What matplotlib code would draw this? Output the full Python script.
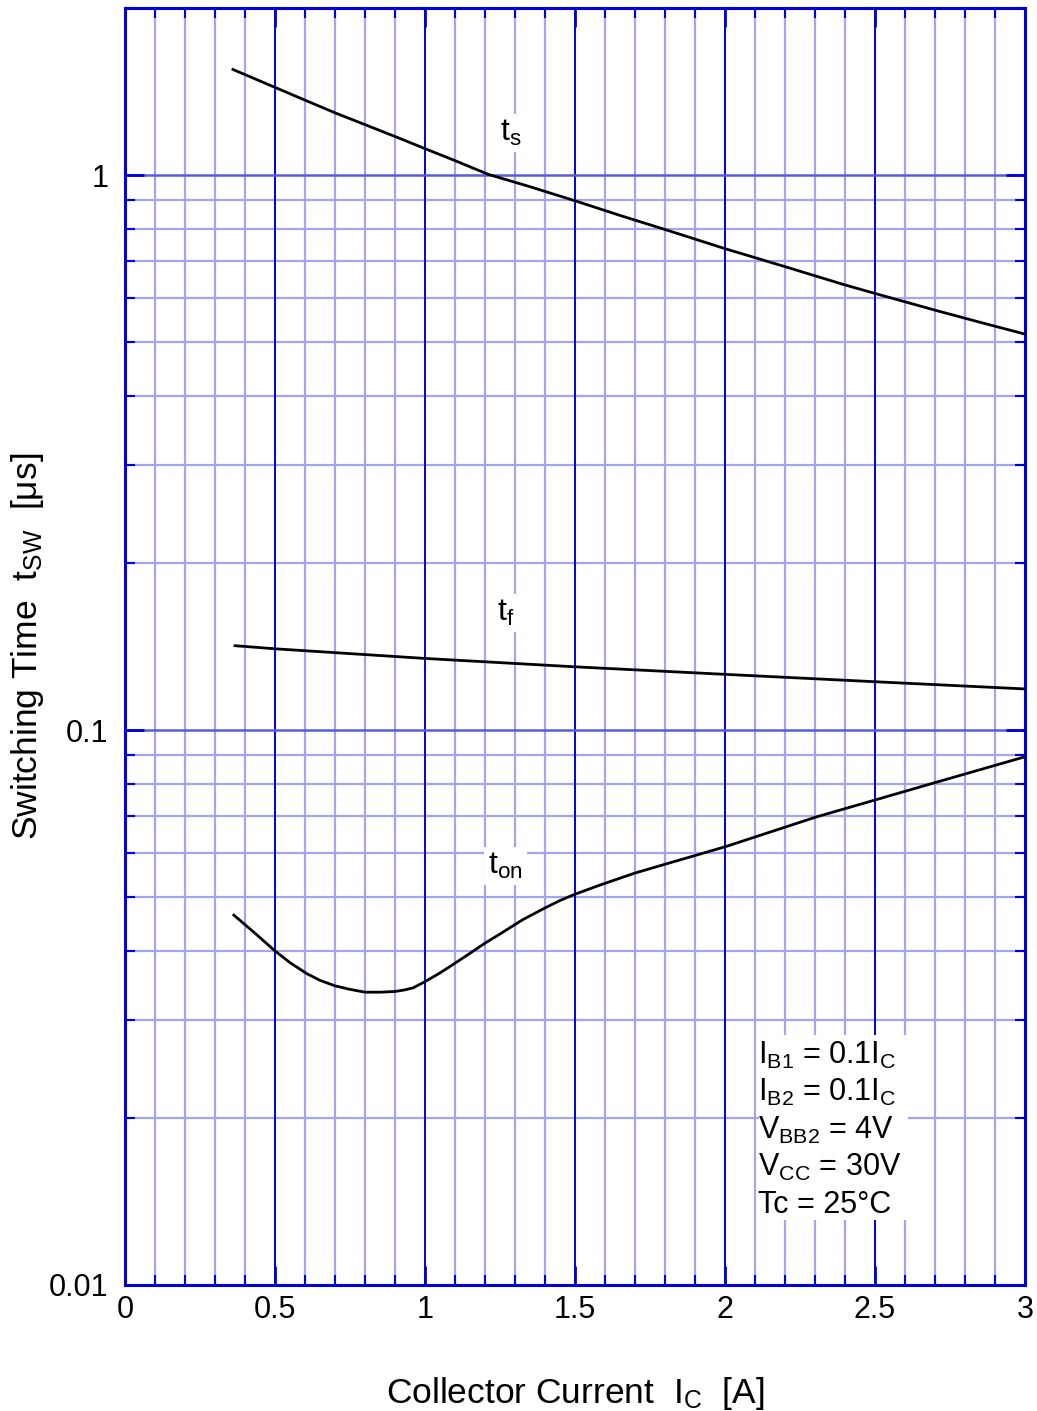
import numpy as np
import matplotlib
matplotlib.use("Agg")
import matplotlib.pyplot as plt
from matplotlib.ticker import MultipleLocator, LogLocator, FixedLocator, NullFormatter
from matplotlib.patches import Rectangle

plt.rcParams['font.family'] = ['Liberation Sans', 'DejaVu Sans']
plt.rcParams['mathtext.fontset'] = 'custom'
plt.rcParams['mathtext.rm'] = 'Liberation Sans'
plt.rcParams['mathtext.it'] = 'Liberation Sans'
plt.rcParams['mathtext.bf'] = 'Liberation Sans:bold'

# Switching time vs collector current
ic_ts = [0.36, 0.5, 0.6, 0.7, 0.8, 0.917, 1.0, 1.1, 1.211, 1.35, 1.5, 1.65, 1.8, 2.0,
         2.2, 2.4, 2.5, 2.7, 2.85, 3.0]
ts = [1.55, 1.439, 1.365, 1.295, 1.233, 1.164, 1.116, 1.062, 1.003, 0.953, 0.899, 0.846,
      0.798, 0.737, 0.684, 0.634, 0.612, 0.571, 0.543, 0.517]

ic_tf = [0.367, 0.5, 1.0, 1.5, 2.0, 2.5, 3.0]
tf = [0.1419, 0.1401, 0.1346, 0.130, 0.126, 0.1222, 0.1186]

ic_ton = [0.363, 0.43, 0.5, 0.55, 0.606, 0.65, 0.7, 0.75, 0.8, 0.85, 0.9, 0.93, 0.96,
          1.0, 1.05, 1.1, 1.15, 1.2, 1.25, 1.325, 1.4, 1.45, 1.5, 1.585, 1.698, 1.8,
          2.0, 2.307, 2.5, 2.7, 3.0]
ton = [0.0464, 0.0432, 0.0400, 0.0381, 0.0364, 0.0354, 0.0346, 0.0341, 0.0337, 0.0337,
       0.0338, 0.0340, 0.0343, 0.0352, 0.0365, 0.0380, 0.0396, 0.0413, 0.0429, 0.0455,
       0.0478, 0.0493, 0.0506, 0.0526, 0.0552, 0.0573, 0.0616, 0.0698, 0.0748, 0.0804,
       0.0895]

x_ticks = [0, 0.5, 1, 1.5, 2, 2.5, 3]
x_tick_labels = ['0', '0.5', '1', '1.5', '2', '2.5', '3']
y_ticks = [0.01, 0.1, 1]
y_tick_labels = ['0.01', '0.1', '1']

conditions = [r'$\mathrm{I_{B1}}$ = 0.1$\mathrm{I_C}$',
              r'$\mathrm{I_{B2}}$ = 0.1$\mathrm{I_C}$',
              r'$\mathrm{V_{BB2}}$ = 4V',
              r'$\mathrm{V_{CC}}$ = 30V',
              'Tc = 25°C']

BLUE = '#0000dd'
LIGHT = '#a4a4f0'
MID = '#5a5ae0'

fig = plt.figure(figsize=(10.37, 14.11), dpi=100)
ax = fig.add_axes([0.1205, 0.0893, 0.8679, 0.9050])
ax.set_yscale('log')
ax.set_xlim(0, 3)
ax.set_ylim(0.01, 2)

# grid
minor_x = [i / 10 for i in range(1, 30) if i % 5 != 0]
major_x = [0.5, 1.0, 1.5, 2.0, 2.5]
for xv in minor_x:
    ax.axvline(xv, color=LIGHT, lw=1.6, zorder=0.5)
for xv in major_x:
    ax.axvline(xv, color=BLUE, lw=1.4, zorder=0.6)
for dec in [0.01, 0.1, 1]:
    for m in range(2, 10):
        v = dec * m
        if v < 2:
            ax.axhline(v, color=LIGHT, lw=1.6, zorder=0.5)
for yv in [0.1, 1]:
    ax.axhline(yv, color=MID, lw=1.8, zorder=0.6)

ax.plot(ic_ts, ts, color='black', lw=2.0, zorder=3, solid_joinstyle='round')
ax.plot(ic_tf, tf, color='black', lw=2.0, zorder=3, solid_joinstyle='round')
ax.plot(ic_ton, ton, color='black', lw=2.0, zorder=3, solid_joinstyle='round')

lab_box = dict(facecolor='white', edgecolor='none', pad=3)
ax.text(1.287, 1.19, r'$\mathrm{t_s}$', fontsize=23, ha='center', va='center', bbox=lab_box, zorder=2)
ax.text(1.27, 0.1625, r'$\mathrm{t_f}$', fontsize=23, ha='center', va='center', bbox=lab_box, zorder=2)
ax.text(1.267, 0.0569, r'$\mathrm{t_{on}}$', fontsize=23, ha='center', va='center', bbox=lab_box, zorder=2)

ax.add_patch(Rectangle((0.705, 0.051), 0.165, 0.145, transform=ax.transAxes,
                       facecolor='white', edgecolor='none', zorder=1))
ys = [0.180, 0.151, 0.1214, 0.0924, 0.0626]
for s, yv in zip(conditions, ys):
    ax.text(0.703, yv, s, fontsize=22, transform=ax.transAxes, ha='left', va='center', zorder=2)

ax.xaxis.set_major_locator(FixedLocator(x_ticks))
ax.set_xticklabels(x_tick_labels)
ax.xaxis.set_minor_locator(MultipleLocator(0.1))
ax.yaxis.set_major_locator(FixedLocator(y_ticks))
ax.set_yticklabels(y_tick_labels)
ax.yaxis.set_minor_locator(LogLocator(base=10, subs=np.arange(2, 10)))
ax.yaxis.set_minor_formatter(NullFormatter())

ax.tick_params(which='both', direction='in', top=True, right=True, colors=BLUE,
               labelcolor='black', labelsize=22)
ax.tick_params(which='major', length=14, width=2)
ax.tick_params(which='minor', length=7, width=1.5)
ax.tick_params(axis='x', which='major', pad=7)
ax.tick_params(axis='y', which='major', pad=12)

for sp in ax.spines.values():
    sp.set_color(BLUE)
    sp.set_linewidth(2.2)

ax.set_xlabel(r'Collector Current  $\mathrm{I_C}$  [A]', fontsize=25.5, labelpad=36)
ax.set_ylabel(r'Switching Time  $\mathrm{t_{SW}}$  [μs]', fontsize=25.5, labelpad=2)

fig.savefig('out.png', dpi=100)
